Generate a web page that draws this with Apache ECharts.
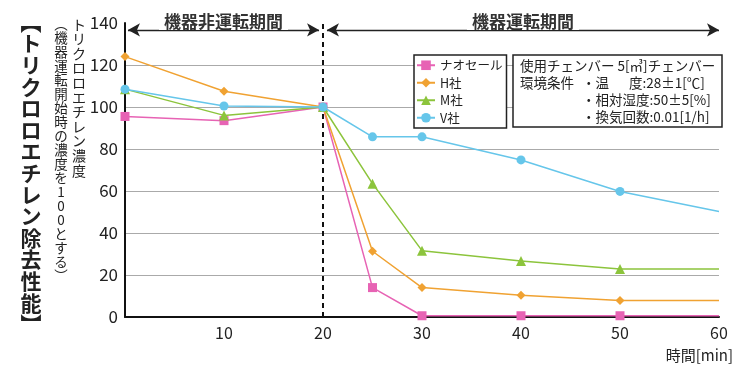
<!DOCTYPE html>
<html><head><meta charset="utf-8">
<script src="https://cdn.jsdelivr.net/npm/echarts@6/dist/echarts.min.js"></script>
<style>html,body{margin:0;padding:0;background:#fff}#c{width:749px;height:373px}</style>
</head><body><div id="c"></div>
<script>
const times = [0, 10, 20, 25, 30, 40, 50, 60];
const naosel = [95.5, 93.5, 100, 14, 0.6, 0.6, 0.6, 0.6];
const hsha = [124, 107.5, 100, 31.3, 14, 10.3, 7.8, 7.8];
const msha = [108.5, 96, 100, 63.5, 31.6, 26.7, 22.8, 22.8];
const vsha = [108.5, 100.5, 100, 85.8, 85.8, 74.8, 59.8, 50.2];
const names = ['ナオセール', 'H社', 'M社', 'V社'];
const colors = ['#e763b4', '#f0a232', '#8cc43c', '#66c6ea'];
const symbols = ['rect', 'diamond', 'triangle', 'circle'];
const yTicks = [0, 20, 40, 60, 80, 100, 120, 140];
const xTicks = [10, 20, 30, 40, 50, 60];
const F = '"Noto Sans CJK JP", "Noto Sans", sans-serif';

function mk(vals) {
  return vals.map((v, i) => i === vals.length - 1 ? { value: [times[i], v], symbol: 'none' } : [times[i], v]);
}
const seriesVals = [naosel, hsha, msha, vsha];
const arrowLabel = (t) => ({ show: true, position: 'middle', formatter: t, color: '#333', fontSize: 17, fontWeight: 'bold', fontFamily: F, backgroundColor: '#fff', padding: [0, 5], distance: 0 });
const markLines = [
  { silent: true, symbol: ['arrow', 'arrow'], symbolSize: [10, 12],
    lineStyle: { color: '#222', width: 1.3, type: 'solid' },
    label: arrowLabel('機器非運転期間'),
    data: [[{ coord: [0.3, 136.7] }, { coord: [19.6, 136.7] }]] },
  { silent: true, symbol: ['arrow', 'arrow'], symbolSize: [10, 12],
    lineStyle: { color: '#222', width: 1.3, type: 'solid' },
    label: arrowLabel('機器運転期間'),
    data: [[{ coord: [20.4, 136.7] }, { coord: [60, 136.7] }]] },
  null,
  { silent: true, symbol: 'none',
    lineStyle: { color: '#111', width: 2, type: [5, 4] },
    label: { show: false },
    data: [{ xAxis: 20 }] }
];
const series = seriesVals.map((vals, k) => {
  const s = {
    name: names[k], type: 'line', data: mk(vals), symbol: symbols[k],
    symbolSize: k === 2 ? 10 : 9, z: 3 + k,
    lineStyle: { color: colors[k], width: 1.5 },
    itemStyle: { color: colors[k] }
  };
  if (markLines[k]) s.markLine = markLines[k];
  return s;
});

function vert(str) { return Array.from(str).join('\n'); }

const chart = echarts.init(document.getElementById('c'));
chart.setOption({
  animation: false,
  backgroundColor: '#fff',
  grid: { left: 125, right: 30, top: 23, bottom: 56 },
  xAxis: {
    type: 'value', min: 0, max: 60, interval: 10,
    axisLine: { show: true, lineStyle: { color: '#111', width: 2 } },
    axisTick: { show: false }, splitLine: { show: false },
    axisLabel: { color: '#222', fontSize: 16, fontFamily: F, margin: 8,
      formatter: v => xTicks.includes(v) ? String(v) : '' }
  },
  yAxis: {
    type: 'value', min: 0, max: 140, interval: 20,
    axisLine: { show: true, lineStyle: { color: '#111', width: 2 } },
    axisTick: { show: false },
    splitLine: { show: true, showMaxLine: false, lineStyle: { color: '#aaa', width: 1 } },
    axisLabel: { color: '#222', fontSize: 17, fontFamily: F, margin: 7,
      formatter: v => yTicks.includes(v) ? String(v) : '' }
  },
  legend: {
    data: names, orient: 'vertical', left: 414, top: 55,
    itemWidth: 18, itemHeight: 12, itemGap: 5,
    padding: [4, 4, 4, 2],
    backgroundColor: '#fff', borderColor: '#222', borderWidth: 1.5,
    textStyle: { fontSize: 12.5, color: '#222', fontFamily: F }
  },
  series: series,
  graphic: [
    { type: 'rect', shape: { x: 513, y: 55, width: 209, height: 72 }, style: { fill: '#fff', stroke: '#222', lineWidth: 1.5 }, z: 100 },
    { type: 'text', x: 520, y: 66, z: 101, style: { text: '使用チェンバー 5[㎥]チェンバー', fontSize: 13.5, fontFamily: F, fill: '#222', verticalAlign: 'middle' } },
    { type: 'text', x: 520, y: 83, z: 101, style: { text: '環境条件', fontSize: 13.5, fontFamily: F, fill: '#222', verticalAlign: 'middle' } },
    { type: 'text', x: 582, y: 83, z: 101, style: { text: '・温', fontSize: 13.5, fontFamily: F, fill: '#222', verticalAlign: 'middle' } },
    { type: 'text', x: 629, y: 83, z: 101, style: { text: '度:28±1[℃]', fontSize: 13.5, fontFamily: F, fill: '#222', verticalAlign: 'middle' } },
    { type: 'text', x: 582, y: 100, z: 101, style: { text: '・相対湿度:50±5[%]', fontSize: 13.5, fontFamily: F, fill: '#222', verticalAlign: 'middle' } },
    { type: 'text', x: 582, y: 117, z: 101, style: { text: '・換気回数:0.01[1/h]', fontSize: 13.5, fontFamily: F, fill: '#222', verticalAlign: 'middle' } },
    { type: 'text', x: 733, y: 355, style: { text: '時間[min]', fontSize: 15, fontFamily: F, fill: '#222', align: 'right', verticalAlign: 'middle' } },
    { type: 'text', x: 31, y: 11, style: { text: vert('︻トリクロロエチレン除去性能︼'), fontSize: 21, lineHeight: 21.6, fontFamily: F, fontWeight: 'bold', fill: '#222', align: 'center', verticalAlign: 'top' } },
    { type: 'text', x: 79, y: 17, style: { text: vert('トリクロロエチレン濃度'), fontSize: 14, lineHeight: 14.6, fontFamily: F, fill: '#222', align: 'center', verticalAlign: 'top' } },
    { type: 'text', x: 61, y: 17, style: { text: vert('︵機器運転開始時の濃度を100とする︶'), fontSize: 13.5, lineHeight: 14, fontFamily: F, fill: '#222', align: 'center', verticalAlign: 'top' } }
  ]
});
</script></body></html>
